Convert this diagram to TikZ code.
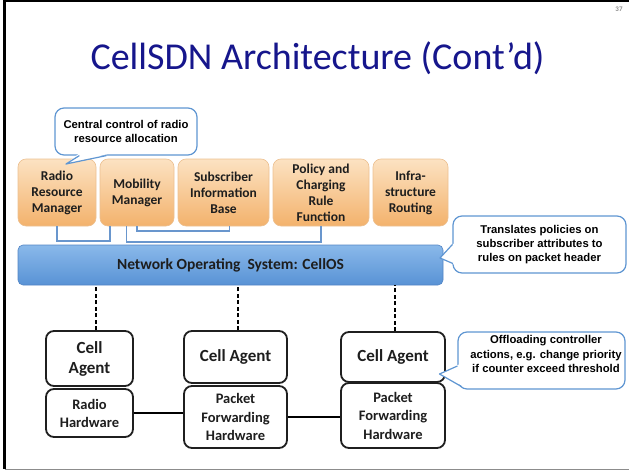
\documentclass[tikz,border=0pt]{standalone}
\usepackage{fontspec}
\setmainfont{Carlito}
\newfontfamily\arialfont{Liberation Sans}
\usetikzlibrary{calc}

\definecolor{titleblue}{RGB}{22,22,140}
\definecolor{calloutblue}{RGB}{95,150,210}
\definecolor{linkblue}{RGB}{105,150,205}
\definecolor{orangetop}{RGB}{252,226,194}
\definecolor{orangebot}{RGB}{243,178,108}
\definecolor{orangeedge}{RGB}{236,192,145}
\definecolor{bartop}{RGB}{138,185,234}
\definecolor{barbot}{RGB}{88,146,213}
\definecolor{baredge}{RGB}{82,132,196}
\definecolor{textdark}{RGB}{30,30,30}

\tikzset{
  func/.style={rounded corners=8pt, top color=orangetop, bottom color=orangebot,
    draw=orangeedge, line width=0.6pt, minimum height=67pt, inner sep=1pt,
    align=center, text=textdark, font=\fontsize{13.5}{16}\selectfont\bfseries},
  osbar/.style={rounded corners=5pt, top color=bartop, bottom color=barbot,
    draw=baredge, line width=0.6pt, minimum width=425pt, minimum height=40pt,
    text=textdark, font=\fontsize{15.5}{18}\selectfont\bfseries},
  agentbox/.style={draw=black!88, line width=1.8pt, rounded corners=8pt, fill=white,
    align=center, inner sep=1pt, text=textdark},
  callout/.style={draw=calloutblue, line width=1.2pt, rounded corners=9pt, fill=white,
    align=center, inner sep=1pt, font=\arialfont\fontsize{11.3}{14.3}\selectfont\bfseries},
  tailfill/.style={fill=white},
  tailline/.style={draw=calloutblue, line width=1.2pt, line join=round},
  link/.style={draw=linkblue, line width=1.5pt},
  dashlink/.style={draw=black, line width=1.3pt, dash pattern=on 4pt off 2.5pt},
  wire/.style={draw=black, line width=1.5pt},
}

\begin{document}
\begin{tikzpicture}[x=1pt,y=-1pt]
  \useasboundingbox (0,0) rectangle (629,471);

  % slide frame and page number
  \draw[black, line width=2.5pt] (4.5,0) -- (4.5,469);
  \draw[black, line width=1.5pt] (4.5,0.75) -- (629,0.75);
  \draw[black!45, line width=1pt] (4.5,469) -- (629,469);
  \node[text=black!45, font=\fontsize{7}{8}\selectfont\bfseries] (pagenum) at (619,9) {37};

  % title
  \node[text=titleblue, font=\fontsize{38}{42}\selectfont, anchor=base] (title) at (317.5,69)
    {CellSDN Architecture (Cont’d)};

  % controller applications
  \node[func, minimum width=78pt] (rrm) at (57,192.5) {Radio\\Resource\\Manager};
  \node[func, minimum width=74pt] (mm) at (137,192.5) {Mobility\\Manager};
  \node[func, minimum width=91pt] (sib) at (223.5,192.5) {Subscriber\\Information\\Base};
  \node[func, minimum width=96pt] (pcrf) at (321,192.5) {Policy and\\Charging\\Rule\\Function};
  \node[func, minimum width=75pt] (infra) at (410.5,192.5) {Infra-\\structure\\Routing};

  % links between applications
  \draw[link] (rrm.south) -- ++(0,14.5) -| ($(mm.south west)+(10.5,0)$);
  \draw[link] (mm.south) -- ++(0,4.5) -| ($(sib.south west)+(52,0)$);
  \draw[link] ($(mm.south west)+(27,0)$) -- ++(0,15.5) -| (pcrf.south);

  % network operating system
  \node[osbar] (nos) at (230.5,265) {Network Operating\ \ System: CellOS};

  % switches: agent on top of hardware
  \node[agentbox, minimum width=87pt, minimum height=55pt,
        font=\fontsize{17}{20}\selectfont\bfseries] (ca1) at (89.5,358.5) {Cell\\Agent};
  \node[agentbox, minimum width=87pt, minimum height=48pt,
        font=\fontsize{14.5}{18}\selectfont\bfseries] (rh) at (89.5,413) {Radio\\Hardware};

  \node[agentbox, minimum width=103pt, minimum height=52pt,
        font=\fontsize{17}{20}\selectfont\bfseries] (ca2) at (235.5,357) {Cell Agent};
  \node[agentbox, minimum width=103pt, minimum height=62pt,
        font=\fontsize{14.5}{18.5}\selectfont\bfseries] (pfh2) at (235.5,417) {Packet\\Forwarding\\Hardware};

  \node[agentbox, minimum width=104pt, minimum height=50pt,
        font=\fontsize{17}{20}\selectfont\bfseries] (ca3) at (393,357) {Cell Agent};
  \node[agentbox, minimum width=104pt, minimum height=65pt,
        font=\fontsize{14.5}{18.5}\selectfont\bfseries] (pfh3) at (393,415.5) {Packet\\Forwarding\\Hardware};

  % control channels to the operating system
  \coordinate (d1) at ($(ca1.north)+(6.5,0)$);
  \coordinate (d2) at ($(ca2.north)+(2.5,0)$);
  \coordinate (d3) at ($(ca3.north)+(2,0)$);
  \draw[dashlink] (d1) -- (d1 |- nos.south);
  \draw[dashlink] (d2) -- (d2 |- nos.south);
  \draw[dashlink] (d3) -- (d3 |- nos.south);

  % data plane wiring
  \draw[wire] (rh.east) -- (rh.east -| pfh2.west);
  \draw[wire] (pfh2.east) -- (pfh2.east -| pfh3.west);

  % callout: radio resource control
  \node[callout, minimum width=142pt, minimum height=47pt] (c1) at (126,131.5)
    {Central control of radio\\resource allocation};
  \coordinate (c1tip) at (66,164);
  \fill[tailfill] ($(c1.south west)+(24,-1.5)$) -- (c1tip) -- ($(c1.south west)+(53,-1.5)$) -- cycle;
  \draw[tailline] ($(c1.south west)+(25,0)$) -- (c1tip) -- ($(c1.south west)+(52,0)$);

  % callout: policy translation
  \node[callout, minimum width=173pt, minimum height=57pt] (c2) at (539.5,244.5)
    {Translates policies on\\subscriber attributes to\\rules on packet header};
  \coordinate (c2tip) at (440,258);
  \fill[tailfill] ($(c2.west)+(1.5,-1)$) -- (c2tip) -- ($(c2.west)+(1.5,20)$) -- cycle;
  \draw[tailline] ($(c2.west)+(0,0)$) -- (c2tip) -- ($(c2.west)+(0.5,19)$);

  % callout: offloaded actions
  \node[callout, minimum width=167pt, minimum height=57pt] (c3) at (541.5,360.5) {};
  \node[font=\arialfont\fontsize{11.3}{14.5}\selectfont\bfseries, align=center, inner sep=0pt]
    (c3text) at (546,354) {Offloading controller\\actions, e.g. change priority\\if counter exceed threshold};
  \coordinate (c3tip) at (439.5,374);
  \fill[tailfill] ($(c3.west)+(1.5,4)$) -- (c3tip) -- ($(c3.west)+(4,25)$) -- cycle;
  \draw[tailline] ($(c3.west)+(0,5.5)$) -- (c3tip) -- ($(c3.west)+(4,26)$);
\end{tikzpicture}
\end{document}
